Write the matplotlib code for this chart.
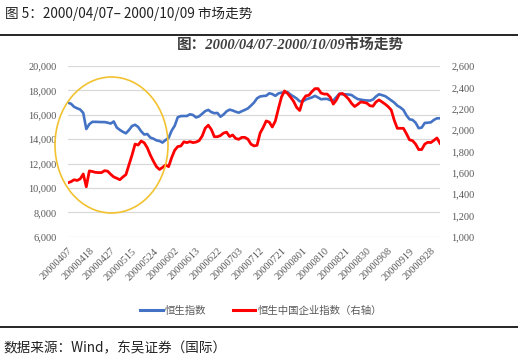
import numpy as np
import matplotlib
matplotlib.use("Agg")
import matplotlib.pyplot as plt
from matplotlib.patches import Ellipse
from matplotlib.ticker import FuncFormatter, MultipleLocator

# 恒生指数 (left axis), daily closes 2000/04/07 - 2000/10/09
hsi = [16990, 16900, 16650, 16530, 16430, 16150, 14830, 15230, 15420, 15420,
       15410, 15400, 15400, 15350, 15280, 15450, 14950, 14760, 14600, 14480,
       14750, 15080, 15180, 15000, 14640, 14380, 14420, 14130, 14040, 13900,
       13850, 13720, 13930, 14100, 14700, 15100, 15800, 15890, 15900, 15900,
       16040, 15980, 15780, 15870, 16080, 16300, 16400, 16220, 16130, 16150,
       15840, 16020, 16280, 16420, 16350, 16250, 16170, 16290, 16400, 16520,
       16750, 17000, 17350, 17500, 17540, 17560, 17760, 17700, 17550, 17750,
       17810, 17830, 17860, 17650, 17500, 17330, 17100, 17100, 17250, 17340,
       17420, 17550, 17420, 17270, 17300, 17300, 17200, 17170, 17450, 17720,
       17680, 17680, 17660, 17620, 17440, 17290, 17240, 17200, 17170, 17160,
       17250, 17500, 17680, 17610, 17530, 17360, 17180, 17000, 16750, 16600,
       16400, 15950, 15630, 15580, 15350, 14900, 14950, 15330, 15350, 15380,
       15580, 15710, 15710]

# 恒生中国企业指数 (right axis)
hscei = [1506, 1516, 1534, 1527, 1542, 1588, 1468, 1617, 1611, 1603,
         1601, 1601, 1619, 1614, 1585, 1560, 1548, 1534, 1560, 1582,
         1674, 1765, 1868, 1859, 1897, 1880, 1834, 1765, 1708, 1657,
         1630, 1649, 1672, 1657, 1742, 1811, 1845, 1850, 1889, 1882,
         1891, 1882, 1887, 1900, 1943, 2017, 2045, 2005, 1937, 1937,
         1948, 1971, 1980, 1939, 1953, 1921, 1913, 1931, 1931, 1914,
         1868, 1851, 1857, 1971, 2023, 2085, 2074, 2028, 2085, 2200,
         2308, 2366, 2343, 2308, 2268, 2211, 2183, 2280, 2320, 2326,
         2360, 2388, 2388, 2346, 2337, 2337, 2308, 2243, 2280, 2337,
         2343, 2320, 2291, 2250, 2220, 2240, 2263, 2259, 2252, 2228,
         2223, 2263, 2282, 2263, 2243, 2219, 2188, 2091, 2016, 2016,
         2016, 1965, 1908, 1900, 1868, 1817, 1817, 1868, 1885, 1882,
         1903, 1925, 1875]

tick_labels = ["20000407", "20000418", "20000427", "20000515", "20000524",
               "20000602", "20000613", "20000622", "20000703", "20000712",
               "20000721", "20000801", "20000810", "20000821", "20000830",
               "20000908", "20000919", "20000928"]

cjk = ["Noto Sans CJK SC", "DejaVu Sans"]
serif = ["Liberation Serif", "Noto Sans CJK SC"]
grey = "#595959"

x = np.arange(len(hsi))

fig = plt.figure(figsize=(5.18, 3.63), dpi=100)
ax = fig.add_axes([68 / 518, 1 - 236.7 / 363, 372 / 518, 170.7 / 363])
ax2 = ax.twinx()

ax.plot(x, hsi, color="#4472C4", lw=1.9, solid_joinstyle="round")
ax2.plot(x, hscei, color="#FF0000", lw=2.0, solid_joinstyle="round")

ax.set_xlim(0, len(hsi) - 1)
ax.set_ylim(6000, 20000)
ax2.set_ylim(1000, 2600)
ax.yaxis.set_major_locator(MultipleLocator(2000))
ax2.yaxis.set_major_locator(MultipleLocator(200))
fmt = FuncFormatter(lambda v, p: f"{int(v):,}")
ax.yaxis.set_major_formatter(fmt)
ax2.yaxis.set_major_formatter(fmt)

ax.set_xticks(x[::7][:len(tick_labels)])
ax.set_xticklabels(tick_labels, rotation=45, ha="right", va="top",
                   rotation_mode="anchor")

ax.grid(axis="y", color="#d9d9d9", lw=0.9)
ax.set_axisbelow(True)
for a in (ax, ax2):
    for s in a.spines.values():
        s.set_visible(False)
    a.tick_params(length=0, colors=grey)
ax.tick_params(axis="y", pad=8, labelsize=7.5)
ax2.tick_params(axis="y", pad=8, labelsize=7.5)
ax.tick_params(axis="x", pad=7, labelsize=7.5)
for lab in ax.get_xticklabels() + ax.get_yticklabels() + ax2.get_yticklabels():
    lab.set_family(serif)

# inner chart title
fig.text(290 / 518, 1 - 46 / 363, "图：2000/04/07-2000/10/09市场走势",
         ha="center", va="center", fontsize=10.5, fontweight="bold",
         style="italic", color="#404040", family=serif)

# highlight ellipse
fig.patches.append(Ellipse((111.5 / 518, 1 - 145 / 363), 113 / 518, 136 / 363,
                           transform=fig.transFigure, fill=False,
                           edgecolor="#F2C230", lw=1.2))

# legend
h1, = ax.plot([], [], color="#4472C4", lw=2.2)
h2, = ax.plot([], [], color="#FF0000", lw=2.2)
fig.legend([h1, h2], ["恒生指数", "恒生中国企业指数（右轴）"], loc="center",
           bbox_to_anchor=(261 / 518, 1 - 311 / 363), ncol=2, frameon=False,
           prop={"family": cjk, "size": 7.5}, labelcolor=grey, handlelength=2.2,
           handletextpad=0.2, columnspacing=2.5)

# page header / footer
fig.text(5 / 518, 1 - 14 / 363, "图 5：2000/04/07– 2000/10/09 市场走势",
         ha="left", va="center", fontsize=9.8, color="#222222", family=cjk)
fig.add_artist(plt.Line2D([0, 1], [1 - 35 / 363] * 2, color="black", lw=1.2,
                          transform=fig.transFigure))
fig.add_artist(plt.Line2D([0, 1], [1 - 327 / 363] * 2, color="black", lw=1.2,
                          transform=fig.transFigure))
fig.text(3 / 518, 1 - 348 / 363, "数据来源：Wind，东吴证券（国际）",
         ha="left", va="center", fontsize=9.8, color="#222222", family=cjk)

fig.savefig("out.png", dpi=100)
